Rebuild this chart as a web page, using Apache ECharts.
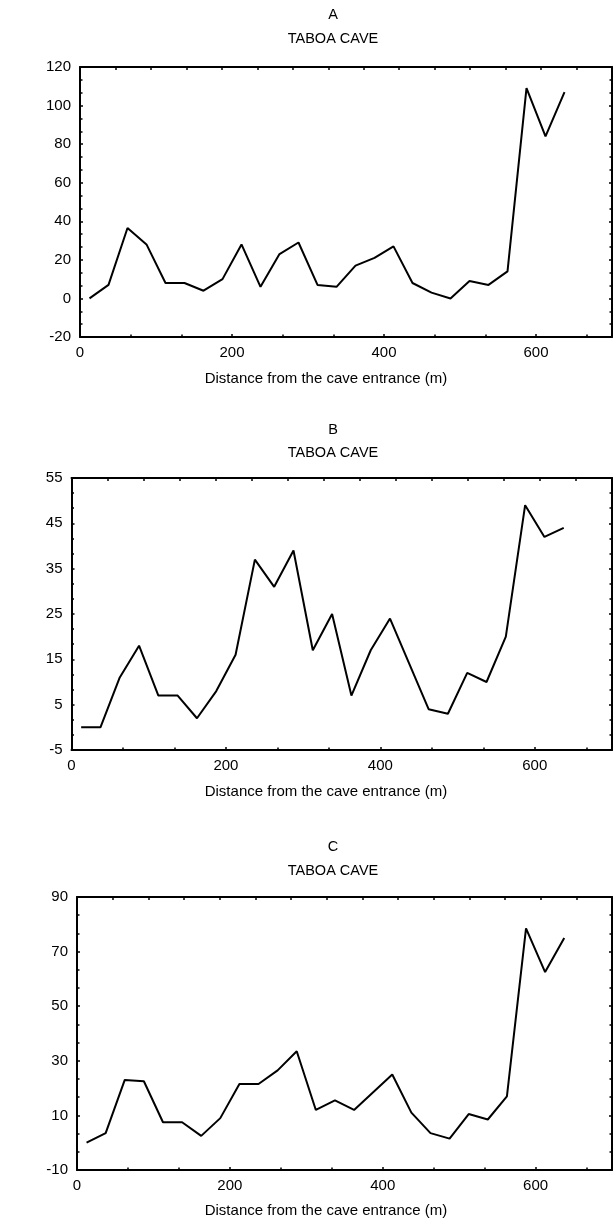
<!DOCTYPE html>
<html>
<head>
<meta charset="utf-8">
<script src="https://cdn.jsdelivr.net/npm/echarts@6/dist/echarts.min.js"></script>
<style>
  html, body { margin: 0; padding: 0; background: #fff; }
  #chart { width: 613px; height: 1226px; }
</style>
</head>
<body>
<div id="chart"></div>
<script>
// distance from the cave entrance (m), same sampling for the three panels
const distance = [12.5, 37.5, 62.5, 87.5, 112.5, 137.5, 162.5, 187.5, 212.5, 237.5, 262.5, 287.5, 312.5,
  337.5, 362.5, 387.5, 412.5, 437.5, 462.5, 487.5, 512.5, 537.5, 562.5, 587.5, 612.5, 637.5];

const valuesA = [0, 7, 36.5, 28, 8, 8, 4, 10, 28, 6, 23, 29, 7, 6, 17, 21, 27, 8, 3, 0, 9, 7, 14, 109, 84, 107];
const valuesB = [0, 0, 11, 18, 7, 7, 2, 8, 16, 37, 31, 39, 17, 25, 7, 17, 24, 14, 4, 3, 12, 10, 20, 49, 42, 44];
const valuesC = [0, 3.5, 23, 22.5, 7.5, 7.5, 2.5, 9, 21.5, 21.5, 26.5, 33.5, 12, 15.5, 12, 18.5, 25, 11, 3.5, 1.5,
  10.5, 8.5, 17, 78.5, 62.5, 75];

const panelLetters = ['A', 'B', 'C'];
const caveName = 'TABOA CAVE';
const xTitle = 'Distance from the cave entrance (m)';

// y axis ranges per panel: [min, max, interval]
const yRanges = [[-20, 120, 20], [-5, 55, 10], [-10, 90, 20]];
const xRange = [0, 700, 200];

const font = 'Liberation Sans, Arial, sans-serif';

// panel geometry
const panels = [
  { left: 80, top: 67, height: 270, titleY: 15, nameY: 379 },
  { left: 71.5, top: 478, height: 272, titleY: 429.5, nameY: 792 },
  { left: 77, top: 897, height: 273, titleY: 847, nameY: 1211 }
];

const seriesValues = [valuesA, valuesB, valuesC];

const line = { show: true, onZero: false, lineStyle: { color: '#000', width: 2 } };
const tick = { show: true, inside: true, length: 3, lineStyle: { color: '#000', width: 1.5 } };
const minor = { show: true, splitNumber: 3, length: 2.5, lineStyle: { color: '#000', width: 1.5 } };

const grid = [], xAxis = [], yAxis = [], series = [], graphic = [];

panels.forEach(function (p, i) {
  grid.push({
    left: p.left, right: 1, top: p.top, height: p.height,
    containLabel: false, outerBoundsMode: 'none'
  });
  // bottom axis with labels
  xAxis.push({
    type: 'value', gridIndex: i, position: 'bottom',
    min: xRange[0], max: xRange[1], interval: xRange[2],
    axisLine: line, axisTick: tick, minorTick: minor,
    splitLine: { show: false },
    axisLabel: { color: '#000', fontSize: 15, fontFamily: font, margin: 8, showMaxLabel: false }
  });
  // top frame with its own ticks
  xAxis.push({
    type: 'value', gridIndex: i, position: 'top',
    min: xRange[0], max: xRange[1], interval: xRange[1] / 15,
    axisLine: line, axisTick: tick, axisLabel: { show: false },
    splitLine: { show: false }
  });
  const r = yRanges[i];
  yAxis.push({
    type: 'value', gridIndex: i, position: 'left',
    min: r[0], max: r[1], interval: r[2],
    axisLine: line, axisTick: tick, minorTick: minor,
    splitLine: { show: false },
    axisLabel: { color: '#000', fontSize: 15, fontFamily: font, margin: 9 }
  });
  yAxis.push({
    type: 'value', gridIndex: i, position: 'right',
    min: r[0], max: r[1], interval: r[2],
    axisLine: line, axisTick: tick, minorTick: minor,
    splitLine: { show: false }, axisLabel: { show: false }
  });
  series.push({
    type: 'line',
    xAxisIndex: i * 2, yAxisIndex: i * 2,
    data: distance.map(function (d, k) { return [d, seriesValues[i][k]]; }),
    showSymbol: false,
    lineStyle: { color: '#000', width: 2 },
    silent: true
  });
  graphic.push({
    type: 'text', x: 333, y: p.titleY,
    style: { text: panelLetters[i], fontSize: 14.5, fontFamily: font, fill: '#000', align: 'center', verticalAlign: 'middle' }
  });
  graphic.push({
    type: 'text', x: 333, y: p.titleY + 23.5,
    style: { text: caveName, fontSize: 14.5, fontFamily: font, fill: '#000', align: 'center', verticalAlign: 'middle' }
  });
  graphic.push({
    type: 'text', x: 326, y: p.nameY,
    style: { text: xTitle, fontSize: 15, fontFamily: font, fill: '#000', align: 'center', verticalAlign: 'middle' }
  });
});

const myChart = echarts.init(document.getElementById('chart'), null, { renderer: 'canvas' });
myChart.setOption({
  animation: false,
  backgroundColor: '#fff',
  grid: grid,
  xAxis: xAxis,
  yAxis: yAxis,
  series: series,
  graphic: graphic
});
</script>
</body>
</html>
